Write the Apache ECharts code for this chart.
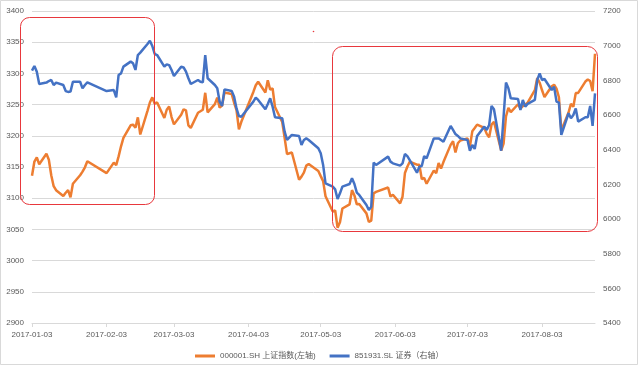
<!DOCTYPE html>
<html><head><meta charset="utf-8">
<script src="https://cdn.jsdelivr.net/npm/echarts@6/dist/echarts.min.js"></script>
<style>html,body{margin:0;padding:0;background:#fff}#c{width:640px;height:367px}</style>
</head><body><div id="c"></div>
<script>
// trading dates
const tradeDates = [
'2017-01-03','2017-01-04','2017-01-05','2017-01-06','2017-01-09','2017-01-10','2017-01-11','2017-01-12','2017-01-13','2017-01-16','2017-01-17','2017-01-18','2017-01-19','2017-01-20','2017-01-23','2017-01-24','2017-01-25','2017-01-26',
'2017-02-03','2017-02-06','2017-02-07','2017-02-08','2017-02-09','2017-02-10','2017-02-13','2017-02-14','2017-02-15','2017-02-16','2017-02-17','2017-02-20','2017-02-21','2017-02-22','2017-02-23','2017-02-24','2017-02-27','2017-02-28',
'2017-03-01','2017-03-02','2017-03-03','2017-03-06','2017-03-07','2017-03-08','2017-03-09','2017-03-10','2017-03-13','2017-03-14','2017-03-15','2017-03-16','2017-03-17','2017-03-20','2017-03-21','2017-03-22','2017-03-23','2017-03-24','2017-03-27','2017-03-28','2017-03-29','2017-03-30','2017-03-31',
'2017-04-05','2017-04-06','2017-04-07','2017-04-10','2017-04-11','2017-04-12','2017-04-13','2017-04-14','2017-04-17','2017-04-18','2017-04-19','2017-04-20','2017-04-21','2017-04-24','2017-04-25','2017-04-26','2017-04-27','2017-04-28',
'2017-05-02','2017-05-03','2017-05-04','2017-05-05','2017-05-08','2017-05-09','2017-05-10','2017-05-11','2017-05-12','2017-05-15','2017-05-16','2017-05-17','2017-05-18','2017-05-19','2017-05-22','2017-05-23','2017-05-24','2017-05-25','2017-05-26','2017-05-31',
'2017-06-01','2017-06-02','2017-06-05','2017-06-06','2017-06-07','2017-06-08','2017-06-09','2017-06-12','2017-06-13','2017-06-14','2017-06-15','2017-06-16','2017-06-19','2017-06-20','2017-06-21','2017-06-22','2017-06-23','2017-06-26','2017-06-27','2017-06-28','2017-06-29','2017-06-30',
'2017-07-03','2017-07-04','2017-07-05','2017-07-06','2017-07-07','2017-07-10','2017-07-11','2017-07-12','2017-07-13','2017-07-14','2017-07-17','2017-07-18','2017-07-19','2017-07-20','2017-07-21','2017-07-24','2017-07-25','2017-07-26','2017-07-27','2017-07-28','2017-07-31',
'2017-08-01','2017-08-02','2017-08-03','2017-08-04','2017-08-07','2017-08-08','2017-08-09','2017-08-10','2017-08-11','2017-08-14','2017-08-15','2017-08-16','2017-08-17','2017-08-18','2017-08-21','2017-08-22','2017-08-23','2017-08-24','2017-08-25'
];
// 000001.SH (left axis)
const sseValues = [
3135.92,3158.79,3165.41,3154.32,3171.24,3161.67,3136.75,3119.29,3112.76,3103.43,3108.77,3113.01,3101.30,3123.14,3136.77,3142.55,3149.55,3159.17,
3140.17,3156.98,3153.09,3166.98,3183.18,3196.70,3216.84,3217.93,3212.99,3229.62,3202.08,3239.96,3253.33,3261.61,3251.38,3253.43,3228.66,3241.73,
3246.93,3230.03,3218.31,3233.87,3242.41,3240.66,3216.75,3212.76,3237.02,3239.33,3241.76,3268.94,3237.45,3250.81,3261.20,3245.22,3248.55,3269.45,3266.96,3252.95,3241.31,3210.24,3222.51,
3270.30,3281.00,3286.62,3269.39,3288.97,3273.83,3275.96,3246.07,3222.17,3196.71,3170.69,3172.10,3173.15,3129.53,3134.57,3140.85,3152.19,3154.66,
3143.71,3135.35,3127.37,3103.04,3078.61,3080.53,3052.79,3061.50,3083.51,3090.23,3112.96,3104.44,3090.14,3090.63,3075.68,3061.95,3064.08,3107.83,3110.06,3117.18,
3102.62,3105.54,3091.66,3102.36,3140.32,3150.33,3158.40,3153.74,3153.47,3130.67,3132.49,3123.17,3144.37,3140.01,3156.21,3147.45,3157.87,3185.44,3191.20,3173.20,3188.06,3192.43,
3195.91,3182.80,3207.13,3212.44,3217.96,3212.63,3203.04,3197.54,3218.16,3222.42,3176.46,3187.57,3230.98,3244.86,3237.98,3250.60,3243.69,3247.67,3249.78,3253.24,3273.03,
3292.64,3285.06,3272.93,3262.08,3279.46,3281.87,3275.57,3261.75,3208.54,3237.36,3251.26,3246.45,3268.43,3268.72,3286.91,3290.23,3287.71,3271.51,3331.52
];
// 851931.SL (right axis)
const secValues = [
6856,6883,6850,6779,6787,6796,6802,6773,6787,6773,6738,6733,6735,6792,6792,6754,6773,6788,
6738,6744,6702,6831,6840,6879,6908,6898,6860,6946,6960,7010,7029,6998,6952,6946,6879,6892,
6888,6860,6825,6879,6875,6850,6812,6779,6802,6792,6788,6946,6812,6773,6754,6677,6652,6748,6738,6706,6638,6594,6590,
6677,6700,6687,6633,6664,6696,6648,6587,6581,6504,6456,6471,6485,6479,6427,6456,6465,6456,
6408,6379,6312,6206,6187,6171,6115,6148,6187,6202,6235,6202,6152,6139,6081,6052,6071,6325,6312,6360,
6331,6321,6308,6321,6375,6363,6340,6267,6302,6306,6363,6350,6465,6465,6465,6456,6446,6537,6514,6490,6479,6465,
6456,6394,6427,6404,6479,6533,6514,6542,6652,6633,6394,6590,6787,6754,6696,6692,6629,6687,6648,6664,6687,
6802,6840,6802,6808,6744,6763,6677,6671,6485,6610,6581,6600,6638,6562,6587,6587,6652,6537,6725
];
const xTickLabels = ['2017-01-03','2017-02-03','2017-03-03','2017-04-03','2017-05-03','2017-06-03','2017-07-03','2017-08-03'];
const seriesNames = ['000001.SH 上证指数(左轴)','851931.SL 证券（右轴）'];
const axisStart = '2017-01-03', axisEnd = '2017-08-25';

// calendar-day category axis (date axis)
const calendar = [];
{
  const d = new Date(axisStart + 'T00:00:00Z');
  const end = new Date(axisEnd + 'T00:00:00Z');
  while (d <= end) { calendar.push(d.toISOString().slice(0,10)); d.setUTCDate(d.getUTCDate()+1); }
}
const FONT = '"Liberation Sans","Noto Sans CJK SC",sans-serif';
const chart = echarts.init(document.getElementById('c'), null, {renderer:'canvas'});
chart.setOption({
  animation:false,
  backgroundColor:'#fff',
  textStyle:{fontFamily:FONT},
  grid:{left:32,right:45,top:11,bottom:44,containLabel:false},
  legend:{
    data:seriesNames, left:190, top:347, icon:'rect', itemWidth:20, itemHeight:3, itemGap:14,
    textStyle:{fontSize:8,color:'#595959',fontFamily:FONT}
  },
  xAxis:{
    type:'category', data:calendar, boundaryGap:false,
    axisLine:{lineStyle:{color:'#d9d9d9'}},
    axisTick:{show:true, length:4, interval:(i,v)=>xTickLabels.includes(v), lineStyle:{color:'#d9d9d9'}},
    axisLabel:{interval:(i,v)=>xTickLabels.includes(v), color:'#595959', fontSize:8, margin:8, fontFamily:FONT},
    splitLine:{show:false}
  },
  yAxis:[
    {type:'value', min:2900, max:3400, interval:50, position:'left',
     axisLine:{show:false}, axisTick:{show:false},
     axisLabel:{color:'#595959', fontSize:8, margin:8, fontFamily:FONT, formatter:v=>String(v)},
     splitLine:{lineStyle:{color:'#d9d9d9', width:1}}},
    {type:'value', min:5400, max:7200, interval:200, position:'right',
     axisLine:{show:false}, axisTick:{show:false},
     axisLabel:{color:'#595959', fontSize:8, margin:8, fontFamily:FONT, formatter:v=>String(v)},
     splitLine:{show:false}}
  ],
  series:[
    {name:seriesNames[0], type:'line', yAxisIndex:0, showSymbol:false, symbol:'none',
     data:tradeDates.map((d,i)=>[d, sseValues[i]]),
     lineStyle:{color:'#ED7D31', width:2.5}, itemStyle:{color:'#ED7D31'}},
    {name:seriesNames[1], type:'line', yAxisIndex:1, showSymbol:false, symbol:'none',
     data:tradeDates.map((d,i)=>[d, secValues[i]]),
     lineStyle:{color:'#4472C4', width:2.5}, itemStyle:{color:'#4472C4'}}
  ],
  graphic:[
    {type:'rect', shape:{x:0.5,y:0.5,width:637,height:364}, style:{fill:'none',stroke:'#d9d9d9',lineWidth:1}, silent:true},
    {type:'rect', shape:{x:20.5,y:17.5,width:134,height:187,r:9}, style:{fill:'none',stroke:'#e8383d',lineWidth:1}, silent:true, z:100},
    {type:'rect', shape:{x:332.5,y:46.5,width:265,height:185,r:10}, style:{fill:'none',stroke:'#e8383d',lineWidth:1}, silent:true, z:100},
    {type:'circle', shape:{cx:313.5,cy:31.5,r:0.8}, style:{fill:'#e8383d'}, silent:true}
  ]
});
</script></body></html>
